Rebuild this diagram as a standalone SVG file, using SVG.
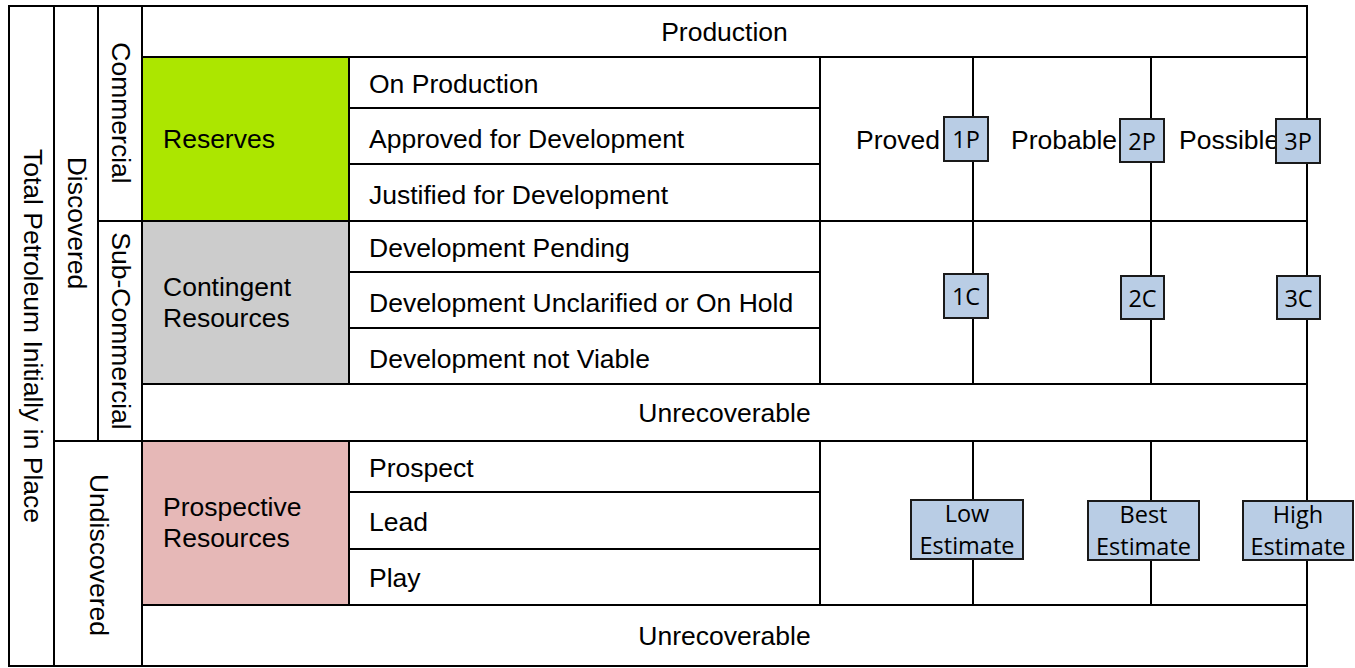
<svg xmlns="http://www.w3.org/2000/svg" width="1355" height="668" viewBox="0 0 1355 668">
<style>
.c{fill:#fff;stroke:#000;stroke-width:2}
.t{font-family:"Liberation Sans",Arial,sans-serif;font-size:26.5px;fill:#000}
.m{text-anchor:middle}
.v{text-anchor:middle;dominant-baseline:central}
.b{fill:#b9cde5;stroke:#1a1a1a;stroke-width:2}
.bt{font-family:"Open Sans","Noto Sans",sans-serif;font-size:23.5px;fill:#000;text-anchor:middle}
.ln{stroke:#000;stroke-width:2;fill:none}
</style>
<rect width="1355" height="668" fill="#fff"/>
<g id="cells">
<g id="total"><rect class="c" x="9" y="6" width="45" height="660"/><text class="t v" transform="translate(32.5,336) rotate(90)">Total Petroleum Initially in Place</text></g>
<g id="discovered"><rect class="c" x="54" y="6" width="44" height="435"/><text class="t v" transform="translate(77,223) rotate(90)">Discovered</text></g>
<g id="commercial"><rect class="c" x="98" y="6" width="44" height="215"/><text class="t v" transform="translate(121,113) rotate(90)">Commercial</text></g>
<g id="subcommercial"><rect class="c" x="98" y="221" width="44" height="220"/><text class="t v" transform="translate(120.5,331) rotate(90)">Sub-Commercial</text></g>
<g id="undiscovered"><rect class="c" x="54" y="441" width="88" height="225"/><text class="t v" transform="translate(98.5,555) rotate(90)">Undiscovered</text></g>
<g id="production"><rect class="c" x="142" y="6" width="1165" height="51"/><text class="t m" x="724.5" y="41">Production</text></g>
<g id="reserves"><rect class="c" x="142" y="57" width="207" height="164" style="fill:#ace600"/><text class="t" x="163" y="148">Reserves</text></g>
<g id="on-production"><rect class="c" x="349" y="57" width="471" height="51"/><text class="t" x="369" y="93">On Production</text></g>
<g id="approved"><rect class="c" x="349" y="108" width="471" height="56"/><text class="t" x="369" y="148">Approved for Development</text></g>
<g id="justified"><rect class="c" x="349" y="164" width="471" height="57"/><text class="t" x="369" y="204">Justified for Development</text></g>
<g id="reserves-range"><rect class="c" x="820" y="57" width="487" height="164"/></g>
<g id="contingent"><rect class="c" x="142" y="221" width="207" height="163" style="fill:#cccccc"/><text class="t" x="163" y="296">Contingent</text><text class="t" x="163" y="327">Resources</text></g>
<g id="dev-pending"><rect class="c" x="349" y="221" width="471" height="51"/><text class="t" x="369" y="257">Development Pending</text></g>
<g id="dev-unclarified"><rect class="c" x="349" y="272" width="471" height="56"/><text class="t" x="369" y="312">Development Unclarified or On Hold</text></g>
<g id="dev-not-viable"><rect class="c" x="349" y="328" width="471" height="56"/><text class="t" x="369" y="368">Development not Viable</text></g>
<g id="contingent-range"><rect class="c" x="820" y="221" width="487" height="163"/></g>
<g id="unrecoverable-1"><rect class="c" x="142" y="384" width="1165" height="57"/><text class="t m" x="724.5" y="422">Unrecoverable</text></g>
<g id="prospective"><rect class="c" x="142" y="441" width="207" height="164" style="fill:#e6b8b7"/><text class="t" x="163" y="516">Prospective</text><text class="t" x="163" y="547">Resources</text></g>
<g id="prospect"><rect class="c" x="349" y="441" width="471" height="51"/><text class="t" x="369" y="477">Prospect</text></g>
<g id="lead"><rect class="c" x="349" y="492" width="471" height="57"/><text class="t" x="369" y="531">Lead</text></g>
<g id="play"><rect class="c" x="349" y="549" width="471" height="56"/><text class="t" x="369" y="587">Play</text></g>
<g id="prospective-range"><rect class="c" x="820" y="441" width="487" height="164"/></g>
<g id="unrecoverable-2"><rect class="c" x="142" y="605" width="1165" height="61"/><text class="t m" x="724.5" y="645">Unrecoverable</text></g>
</g>
<g id="connectors">
<line class="ln" x1="973" y1="57" x2="973" y2="384"/>
<line class="ln" x1="1151" y1="57" x2="1151" y2="384"/>
<line class="ln" x1="973" y1="441" x2="973" y2="605"/>
<line class="ln" x1="1151" y1="441" x2="1151" y2="605"/>
</g>
<g id="range-labels">
<text class="t" x="856" y="149">Proved</text>
<text class="t" x="1011" y="149">Probable</text>
<text class="t" x="1179" y="149">Possible</text>
</g>
<g id="box-1P"><rect class="b" x="944" y="117" width="44" height="44"/><text class="bt" x="966" y="148">1P</text></g>
<g id="box-2P"><rect class="b" x="1120" y="119" width="44" height="43"/><text class="bt" x="1142" y="150">2P</text></g>
<g id="box-3P"><rect class="b" x="1276" y="119" width="44" height="44"/><text class="bt" x="1298" y="150">3P</text></g>
<g id="box-1C"><rect class="b" x="944" y="274" width="44" height="44"/><text class="bt" x="966" y="305">1C</text></g>
<g id="box-2C"><rect class="b" x="1121" y="276" width="43" height="43"/><text class="bt" x="1142.5" y="307">2C</text></g>
<g id="box-3C"><rect class="b" x="1277" y="276" width="43" height="43"/><text class="bt" x="1298.5" y="307">3C</text></g>
<g id="box-low"><rect class="b" x="911" y="500" width="112" height="59"/><text class="bt" x="967" y="522">Low</text><text class="bt" x="967" y="554">Estimate</text></g>
<g id="box-best"><rect class="b" x="1088" y="501" width="111" height="59"/><text class="bt" x="1143.5" y="523">Best</text><text class="bt" x="1143.5" y="555">Estimate</text></g>
<g id="box-high"><rect class="b" x="1243" y="501" width="110" height="59"/><text class="bt" x="1298" y="523">High</text><text class="bt" x="1298" y="555">Estimate</text></g>
</svg>
